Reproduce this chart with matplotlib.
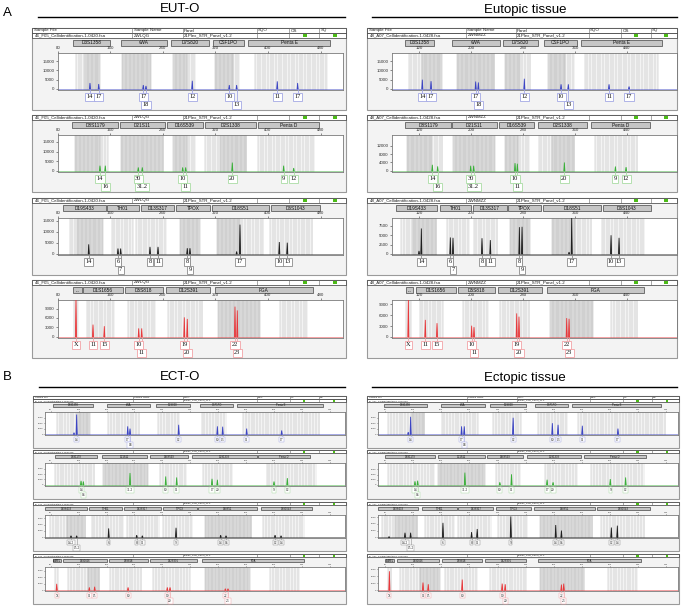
import numpy as np
import matplotlib.pyplot as plt
from matplotlib.patches import Rectangle
from matplotlib.lines import Line2D
from matplotlib.transforms import blended_transform_factory

plt.rcParams['font.family'] = ['Liberation Sans', 'DejaVu Sans']
SERIF = ['Liberation Serif', 'DejaVu Serif']

W, H = 685, 608

# ------------------------------------------------------------
# kit / header text
# ------------------------------------------------------------
blue_loci = ["D3S1358", "vWA", "D7S820", "CSF1PO", "Penta E"]
green_loci = ["D8S1179", "D21S11", "D16S539", "D2S1338", "Penta D"]
black_loci = ["D19S433", "TH01", "D13S317", "TPOX", "D18S51", "D6S1043"]
red_loci = ["AMEL", "D1S1656", "D5S818", "D12S391", "FGA"]

header_cols = ["Sample File", "Sample Name", "Panel", "SQO", "OS", "SQ"]
panel_name = "21Plex_STR_Panel_v1.2"

eut_o_file, eut_o_sample = "46_F05_Cellidentification-1-0420.fsa", "ZWLQG"
eutopic_file, eutopic_sample = "48_A07_Cellidentification-1-0428.fsa", "ZWNMZZ"
ect_o_file, ect_o_sample = "31_F11_Cellidentification-1-0520.fsa", ""
ectopic_file, ectopic_sample = "32_A07_Cellidentification-1-0520.fsa", ""

eut_o_xticks = [80, 160, 240, 320, 400, 480]
eutopic_xticks = [120, 200, 280, 360, 440]
ect_o_xticks = [80, 120, 160, 200, 240, 280, 320, 360, 400, 440, 480]
ectopic_xticks = [80, 120, 160, 200, 240, 280, 320, 360, 400, 440, 480]

# ------------------------------------------------------------
# A  EUT-O   (spans = locus boxes in bp, bins = (lo, hi, dense), peaks = (bp, RFU, allele))
# ------------------------------------------------------------
eut_o_ymax = [19400, 18500, 16300, 11700]
eut_o_yticks = [[0, 5000, 10000, 15000], [0, 5000, 10000, 15000],
                [0, 5000, 10000, 15000], [0, 3000, 6000, 9000]]

eut_o_blue_spans = [(103, 160), (176, 246), (252, 310), (316, 363), (370, 494)]
eut_o_blue_bins = [(108, 122, 0), (122, 144, 1), (178, 222, 1), (256, 276, 1), (276, 291, 0),
                   (319, 347, 1), (347, 357, 0), (380, 491, 0)]
eut_o_blue_peaks = [(129.1, 3200, "14"), (142.4, 2650, "17"), (210.2, 2100, "17"), (214.3, 1600, "18"),
                    (284.7, 4400, "12"), (341.0, 2100, "10"), (352.2, 2100, "13"), (414.0, 4100, "11"),
                    (445.0, 3200, "17")]

eut_o_green_spans = [(102, 172), (175, 243), (246, 301), (304, 382), (385, 477)]
eut_o_green_bins = [(106, 144, 1), (144, 157, 0), (176, 241, 1), (256, 276, 1), (276, 291, 0),
                    (304, 327, 0), (327, 368, 1), (385, 471, 0)]
eut_o_green_peaks = [(144.3, 2700, "14"), (152.4, 2700, "16"), (202.6, 1800, "30"), (208.7, 1800, "31.2"),
                     (270.1, 1800, "10"), (274.7, 1800, "11"), (345.6, 4300, "20"), (423.7, 2700, "9"),
                     (439.0, 1500, "12")]

eut_o_black_spans = [(88, 154), (155, 204), (207, 257), (260, 312), (315, 401), (404, 479)]
eut_o_black_bins = [(98, 109, 0), (109, 149, 1), (162, 195, 0), (199, 246, 0), (266, 296, 1),
                    (322, 357, 1), (357, 393, 0), (403, 469, 0)]
eut_o_black_peaks = [(127.2, 4350, "14"), (171.7, 2460, "6"), (175.8, 2460, "7"), (220.4, 3200, "8"),
                     (232.6, 3200, "11"), (277.1, 2600, "8"), (281.2, 2600, "9"), (352.2, 1100, ""),
                     (357.3, 13300, "17"), (417.1, 5400, "10"), (429.2, 5100, "13")]

eut_o_red_spans = [(103, 117), (118.5, 179), (182, 240), (245, 312), (319, 468)]
eut_o_red_bins = [(105, 112, 0), (124, 167, 0), (187, 230, 0), (248, 301, 0), (324, 388, 1), (418, 461, 0)]
eut_o_red_peaks = [(107.8, 12500, "X"), (133.7, 3900, "11"), (150.9, 3400, "15"), (203.2, 2700, "10"),
                   (207.8, 2700, "11"), (272.6, 6200, "19"), (277.1, 5700, "20"), (349.7, 9600, "22"),
                   (353.2, 8400, "23")]

# ------------------------------------------------------------
# A  Eutopic tissue
# ------------------------------------------------------------
eutopic_ymax = [19400, 17000, 9600, 10200]
eutopic_yticks = [[0, 5000, 10000, 15000], [0, 4000, 8000, 12000],
                  [0, 2500, 5000, 7500], [0, 3000, 6000, 9000]]

eutopic_blue_spans = [(98.5, 143.6), (171.3, 244.6), (248.7, 303.6), (312.8, 362.6), (368.7, 493.3)]
eutopic_blue_bins = [(104, 125, 0), (125, 155, 1), (178, 237, 1), (252, 275, 1), (275, 293, 0),
                     (319, 345, 1), (345, 360, 0), (375, 488, 0)]
eutopic_blue_peaks = [(125.1, 5000, "14"), (138.5, 4200, "17"), (207.2, 4000, "17"), (211.3, 3500, "18"),
                      (282.0, 5500, "12"), (338.5, 2500, "10"), (349.7, 2500, "13"), (412.3, 2500, "11"),
                      (443.1, 1300, "17")]

eutopic_green_spans = [(98.5, 169.2), (171.3, 239.5), (243.1, 297.4), (302.6, 377.9), (384.6, 475.4)]
eutopic_green_bins = [(101, 140, 1), (140, 157, 0), (173, 237, 1), (252, 272, 1), (272, 291, 0),
                      (304, 325, 0), (325, 360, 1), (391, 457, 0)]
eutopic_green_peaks = [(140.5, 2900, "14"), (148.7, 2150, "16"), (199.5, 2450, "30"), (204.1, 2450, "31.2"),
                       (267.7, 3700, "10"), (271.3, 3400, "11"), (343.6, 4000, "20"), (422.1, 2100, "9"),
                       (438.5, 1800, "12")]

eutopic_black_spans = [(84.1, 147.2), (152.3, 200.0), (202.6, 254.9), (257.4, 307.7), (311.3, 400.0),
                       (402.6, 476.9)]
eutopic_black_bins = [(93, 110, 0), (110, 147, 1), (163, 198, 0), (204, 242, 0), (260, 291, 1),
                      (324, 360, 1), (360, 386, 0), (401, 468, 0)]
eutopic_black_peaks = [(120.0, 800, ""), (123.6, 6800, "14"), (168.2, 4400, "6"), (172.3, 4300, "7"),
                       (216.9, 4200, "8"), (229.7, 3700, "11"), (274.4, 7150, "8"), (278.5, 7250, "9"),
                       (350.8, 500, ""), (354.9, 10000, "17"), (415.4, 5000, "10"), (427.7, 4300, "13")]

eutopic_red_spans = [(99.5, 111.3), (114.9, 176.4), (180.5, 236.9), (241.0, 308.7), (317.4, 466.1)]
eutopic_red_bins = [(100, 108, 0), (121, 157, 0), (188, 227, 0), (245, 291, 0), (322, 388, 1), (416, 457, 0)]
eutopic_red_peaks = [(103.6, 11000, "X"), (129.7, 4700, "11"), (147.7, 3800, "15"), (201.0, 3100, "10"),
                     (204.6, 2700, "11"), (270.3, 6500, "19"), (273.8, 5600, "20"), (347.2, 5200, "22"),
                     (350.8, 5000, "23")]

# ------------------------------------------------------------
# B  ECT-O
# ------------------------------------------------------------
ect_o_ymax = [4000, 4060, 3500, 3600]
ect_o_yticks = [[0, 1000, 2000, 3000]] * 4

ect_o_blue_spans = [(82.8, 141.1), (161.2, 222.4), (231.0, 279.8), (294.1, 341.9), (347.6, 470.9)]
ect_o_blue_bins = [(88.6, 118, 0), (118, 136.4, 1), (162.6, 208.1, 0), (234.3, 265.4, 0),
                   (296.5, 332.4, 0), (356.2, 466.2, 0)]
ect_o_blue_peaks = [(113.4, 300, ""), (117.2, 3540, "14"), (190.4, 1430, "17"), (193.7, 1030, "18"),
                    (263.5, 1710, "12"), (319.0, 1430, "10"), (326.6, 1370, "13"), (361.0, 1030, "11"),
                    (411.2, 690, "17")]

ect_o_green_spans = [(86.2, 146.0), (153.1, 217.7), (222.4, 277.3), (282.1, 375.3), (377.7, 451.8)]
ect_o_green_bins = [(86.2, 143.5, 0), (155.5, 220.0, 1), (236.7, 275.0, 0), (298.9, 341.9, 0),
                    (389.7, 461.4, 0)]
ect_o_green_peaks = [(123.5, 750, "14"), (126.8, 620, "16"), (193.7, 2200, "31.2"), (244.9, 1560, "10"),
                     (260.6, 1375, "11"), (311.3, 1125, "17"), (319.0, 940, "20"), (400.2, 620, "9"),
                     (419.3, 1250, "12")]

ect_o_black_spans = [(71.8, 132.5), (135.4, 181.8), (185.1, 237.7), (240.6, 289.4), (291.6, 375.3),
                     (381.1, 454.3)]
ect_o_black_bins = [(79, 103, 0), (103, 130.6, 1), (138.7, 185.1, 0), (189.0, 236.7, 0), (241.5, 284.5, 0),
                    (301.3, 368.2, 1), (384.9, 444.7, 0)]
ect_o_black_peaks = [(109.1, 250, "14.2"), (117.2, 250, "15.2"), (163.1, 1400, "6"), (203.3, 350, "8"),
                     (211.4, 250, "11"), (259.7, 1500, "9"), (323.7, 350, "14"), (331.4, 250, "16"),
                     (401.7, 350, "12"), (410.3, 250, "14")]

ect_o_red_spans = [(82.8, 94.8), (98.1, 161.2), (164.0, 220.0), (222.4, 289.4), (297.4, 443.2)]
ect_o_red_bins = [(86.2, 90.9, 0), (105.2, 133.5, 0), (133.5, 150.7, 1), (165.0, 210.5, 0),
                  (227.1, 279.8, 0), (301.3, 365.8, 1), (394.4, 437.4, 0)]
ect_o_red_peaks = [(88.6, 1000, "X"), (135.4, 450, "11"), (143.0, 550, "15"), (190.9, 450, "10"),
                   (247.2, 450, "19"), (251.1, 450, "20"), (330.4, 250, "22"), (334.2, 250, "23")]

# ------------------------------------------------------------
# B  Ectopic tissue
# ------------------------------------------------------------
ectopic_ymax = [4000, 4250, 3300, 3300]
ectopic_yticks = [[0, 1000, 2000, 3000]] * 4

ectopic_blue_spans = [(79.1, 139.2), (159.5, 222.0), (230.0, 280.2), (293.9, 340.3), (346.5, 471.9)]
ectopic_blue_bins = [(84.7, 117.9, 0), (117.9, 136.8, 1), (160.5, 212.5, 0), (233.8, 274.1, 0),
                     (297.7, 340.3, 0), (354.5, 480.0, 0)]
ectopic_blue_peaks = [(113.0, 400, ""), (116.4, 3140, "14"), (188.9, 1430, "17"), (192.7, 1430, "18"),
                      (262.2, 2970, "12"), (318.0, 2000, "10"), (326.1, 1710, "13"), (360.6, 1540, "11"),
                      (411.3, 1030, "17")]

ectopic_green_spans = [(80, 151), (154.8, 222.0), (224.4, 276.4), (282.6, 358.3), (363.1, 451.6)]
ectopic_green_bins = [(84.7, 151.0, 0), (155.7, 222.0, 1), (238.5, 274.1, 0), (307.2, 354.5, 0),
                      (373.5, 449.2, 0)]
ectopic_green_peaks = [(122.6, 690, "14"), (126.4, 810, "16"), (193.6, 2380, "31.2"), (243.3, 500, "10"),
                       (259.9, 2060, "11"), (310.5, 1000, "17"), (319.0, 500, "20"), (400.4, 1125, "9"),
                       (422.2, 1440, "12")]

ectopic_black_spans = [(70.5, 126.4), (133.0, 182.2), (184.1, 233.8), (238.5, 288.3), (291.6, 378.2),
                       (381.5, 456.3)]
ectopic_black_bins = [(75.3, 93.9, 0), (93.9, 127.3, 1), (136.8, 179.4, 0), (184.1, 231.5, 0),
                      (241.0, 283.5, 0), (300.1, 375.8, 1), (387.7, 449.2, 0)]
ectopic_black_peaks = [(85.7, 90, ""), (108.4, 680, "14.2"), (116.4, 680, "15.2"), (162.4, 2140, "6"),
                       (203.1, 770, "8"), (211.1, 1230, "11"), (258.9, 3090, "9"), (322.8, 1820, "14"),
                       (330.9, 1000, "16"), (401.9, 1450, "12"), (410.4, 1730, "14")]

ectopic_red_spans = [(80, 93.3), (96.6, 156.7), (161.4, 217.3), (222.0, 281.2), (297.6, 444.4)]
ectopic_red_bins = [(84.7, 89.5, 0), (101.3, 129.7, 0), (129.7, 158.1, 1), (165.2, 212.5, 0),
                    (229.1, 281.2, 0), (300.1, 364.0, 1), (397.1, 439.7, 0)]
ectopic_red_peaks = [(86.2, 2700, "X"), (134.0, 1100, "11"), (141.5, 860, "15"), (189.8, 1520, "10"),
                     (246.6, 950, "19"), (250.9, 860, "20"), (330.9, 810, "22"), (334.2, 950, "23")]

# ------------------------------------------------------------
# layout (pixels)
# ------------------------------------------------------------
fig = plt.figure(figsize=(W / 100, H / 100), dpi=100)


def fx(px):
    return px / W


def fy(py):
    return 1 - py / H


def frect(x0, y0, x1, y1, **kw):
    r = Rectangle((fx(x0), fy(y1)), (x1 - x0) / W, (y1 - y0) / H, transform=fig.transFigure, **kw)
    fig.patches.append(r)


def fline(x0, y0, x1, y1, **kw):
    fig.lines.append(Line2D([fx(x0), fx(x1)], [fy(y0), fy(y1)], transform=fig.transFigure, **kw))


DYES = [('#3b44c4', '#a3a8e4'), ('#39b038', '#a9dca4'), ('#1e1e1e', '#8c8c8c'), ('#e8383b', '#f2a2a6')]
COL_FRAC = [0.004, 0.32, 0.48, 0.715, 0.82, 0.915]
SQUARES = [0.862, 0.958]

A_TOPS, A_BOTS = [53, 135, 218, 300], [90, 172, 255, 338]
B_TOPS, B_BOTS = [412, 463, 515, 567], [435, 485.5, 538, 591]

columns = [
    dict(box=(32, 346), plot=(57.7, 343), xlim=(80, 514), xticks=eut_o_xticks, s=1.0, f=1.0,
         tops=A_TOPS, bots=A_BOTS, file=eut_o_file, sample=eut_o_sample,
         ymax=eut_o_ymax, yticks=eut_o_yticks,
         spans=[eut_o_blue_spans, eut_o_green_spans, eut_o_black_spans, eut_o_red_spans],
         bins=[eut_o_blue_bins, eut_o_green_bins, eut_o_black_bins, eut_o_red_bins],
         peaks=[eut_o_blue_peaks, eut_o_green_peaks, eut_o_black_peaks, eut_o_red_peaks]),
    dict(box=(367, 677), plot=(391.7, 676.7), xlim=(78, 516.4), xticks=eutopic_xticks, s=1.0, f=1.0,
         tops=A_TOPS, bots=A_BOTS, file=eutopic_file, sample=eutopic_sample,
         ymax=eutopic_ymax, yticks=eutopic_yticks,
         spans=[eutopic_blue_spans, eutopic_green_spans, eutopic_black_spans, eutopic_red_spans],
         bins=[eutopic_blue_bins, eutopic_green_bins, eutopic_black_bins, eutopic_red_bins],
         peaks=[eutopic_blue_peaks, eutopic_green_peaks, eutopic_black_peaks, eutopic_red_peaks]),
    dict(box=(33, 346), plot=(45, 345), xlim=(71.8, 502), xticks=ect_o_xticks, s=0.65, f=0.55,
         tops=B_TOPS, bots=B_BOTS, file=ect_o_file, sample=ect_o_sample,
         ymax=ect_o_ymax, yticks=ect_o_yticks,
         spans=[ect_o_blue_spans, ect_o_green_spans, ect_o_black_spans, ect_o_red_spans],
         bins=[ect_o_blue_bins, ect_o_green_bins, ect_o_black_bins, ect_o_red_bins],
         peaks=[ect_o_blue_peaks, ect_o_green_peaks, ect_o_black_peaks, ect_o_red_peaks]),
    dict(box=(367, 679), plot=(378, 677.5), xlim=(70, 496), xticks=ectopic_xticks, s=0.65, f=0.55,
         tops=B_TOPS, bots=B_BOTS, file=ectopic_file, sample=ectopic_sample,
         ymax=ectopic_ymax, yticks=ectopic_yticks,
         spans=[ectopic_blue_spans, ectopic_green_spans, ectopic_black_spans, ectopic_red_spans],
         bins=[ectopic_blue_bins, ectopic_green_bins, ectopic_black_bins, ectopic_red_bins],
         peaks=[ectopic_blue_peaks, ectopic_green_peaks, ectopic_black_peaks, ectopic_red_peaks]),
]
LOCI = [blue_loci, green_loci, black_loci, red_loci]


def draw_trace(col, row):
    s, f = col['s'], col['f']
    bx0, bx1 = col['box']
    px0, px1 = col['plot']
    pt, pb = col['tops'][row], col['bots'][row]
    color, edge = DYES[row]
    wbox = bx1 - bx0

    # panel frame
    top = pt - (25 if row == 0 else 20) * s
    frect(bx0, top, bx1, pb + 20 * s, fc='#f3f3f3', ec='#9a9a9a', lw=0.8, zorder=-5)

    # header rows
    rows = []
    if row == 0:
        rows.append((pt - 25 * s, pt - 20 * s, header_cols, False))
    rows.append((pt - 20 * s, pt - 15 * s, [col['file'], col['sample'], panel_name, '', '', ''], True))
    for y0, y1, texts, squares in rows:
        frect(bx0, y0, bx1, y1, fc='white', ec='#333333', lw=0.5, zorder=-4)
        for frac, t in zip(COL_FRAC, texts):
            x = bx0 + frac * wbox
            if frac > 0.01:
                fline(x, y0, x, y1, color='#666666', lw=0.4)
            if t:
                fig.text(fx(x + 1.2 * s), fy((y0 + y1) / 2), t, fontsize=3.2 * f,
                         ha='left', va='center', color='#222222')
        if squares:
            for frac in SQUARES:
                x = bx0 + frac * wbox
                frect(x, y0 + 1 * s, x + 4 * s, y1 - 0.8 * s, fc='#4cbb17', ec='none', zorder=-3)

    # trace axes
    ax = fig.add_axes([fx(px0), fy(pb), (px1 - px0) / W, (pb - pt) / H])
    trans = blended_transform_factory(ax.transData, ax.transAxes)
    ph = pb - pt
    ymax = col['ymax'][row]
    xlo, xhi = col['xlim']
    ppb = (px1 - px0) / (xhi - xlo)

    for lo, hi, dense in col['bins'][row]:
        ax.axvspan(lo, hi, color='#e3e3e3' if dense else '#f3f3f3', lw=0, zorder=0)
        ax.vlines(np.arange(lo, hi + 0.01, 2 if dense else 4), 0, 1, transform=trans,
                  color='#b9b9b9', lw=0.35, zorder=1)

    ax.plot([xlo, xhi], [0, 0], color=color, lw=0.6, alpha=0.55, zorder=2)
    w = 0.8
    for bp, h, al in col['peaks'][row]:
        ax.fill([bp - w, bp, bp + w], [0, h, 0], facecolor=color, edgecolor=color, lw=0.6, zorder=3)

    ax.set_xlim(xlo, xhi)
    ax.set_ylim(-0.03 * ymax, ymax)
    ax.set_xticks(col['xticks'])
    ax.set_yticks(col['yticks'][row])
    ax.tick_params(axis='x', top=True, bottom=False, labeltop=True, labelbottom=False,
                   length=1.5 * s, width=0.4, pad=0.6 * s, labelsize=3.2 * f, colors='#333333')
    ax.tick_params(axis='y', length=1.5 * s, width=0.4, pad=0.8 * s, labelsize=3.2 * f, colors='#333333')
    for sp in ax.spines.values():
        sp.set_color('#7a7a7a')
        sp.set_linewidth(0.6)

    # locus boxes
    m0, m1 = 1 + 7 * s / ph, 1 + 13 * s / ph
    for name, (lo, hi) in zip(LOCI[row], col['spans'][row]):
        ax.add_patch(Rectangle((lo, m0), hi - lo, m1 - m0, transform=trans, fc='#c6c6c6',
                               ec='#444444', lw=0.5, clip_on=False))
        label = name if (hi - lo) * ppb > 12 * s else '...'
        ax.text((lo + hi) / 2, (m0 + m1) / 2, label, transform=trans, ha='center', va='center',
                fontsize=3.4 * f, color='#111111')

    # allele calls
    last = None
    for bp, h, al in col['peaks'][row]:
        if not al:
            continue
        wl = (len(al) * 3.0 + 1.8) * f
        second = last is not None and (bp - last[0]) * ppb < (wl + last[1]) / 2
        if not second:
            last = (bp, wl)
        yl = -(15 if second else 7) * s / ph
        ax.plot([bp, bp], [0, yl + 3 * s / ph], transform=trans, color=edge, lw=0.5 * f + 0.1,
                clip_on=False, zorder=4)
        ax.text(bp, yl, al, transform=trans, ha='center', va='center', fontsize=4.6 * f,
                family=SERIF, color='#111111', zorder=5, clip_on=False,
                bbox=dict(boxstyle='square,pad=0.22', fc='white', ec=edge, lw=0.6 * f))


for col in columns:
    for r in range(4):
        draw_trace(col, r)

# titles
fig.text(fx(3), fy(12.5), 'A', fontsize=9.5, ha='left', va='center')
fig.text(fx(180), fy(9.5), 'EUT-O', fontsize=9.5, ha='center', va='center')
fig.text(fx(525), fy(9.5), 'Eutopic tissue', fontsize=9.5, ha='center', va='center')
fline(38, 17.3, 345, 17.3, color='black', lw=1.0)
fline(372, 17.3, 677, 17.3, color='black', lw=1.0)

fig.text(fx(3), fy(377.5), 'B', fontsize=9.5, ha='left', va='center')
fig.text(fx(180), fy(377.5), 'ECT-O', fontsize=9.5, ha='center', va='center')
fig.text(fx(525), fy(377.5), 'Ectopic tissue', fontsize=9.5, ha='center', va='center')
fline(39, 386.5, 345, 386.5, color='black', lw=1.0)
fline(372, 386.5, 677, 386.5, color='black', lw=1.0)

fig.savefig('out.png', dpi=100)
